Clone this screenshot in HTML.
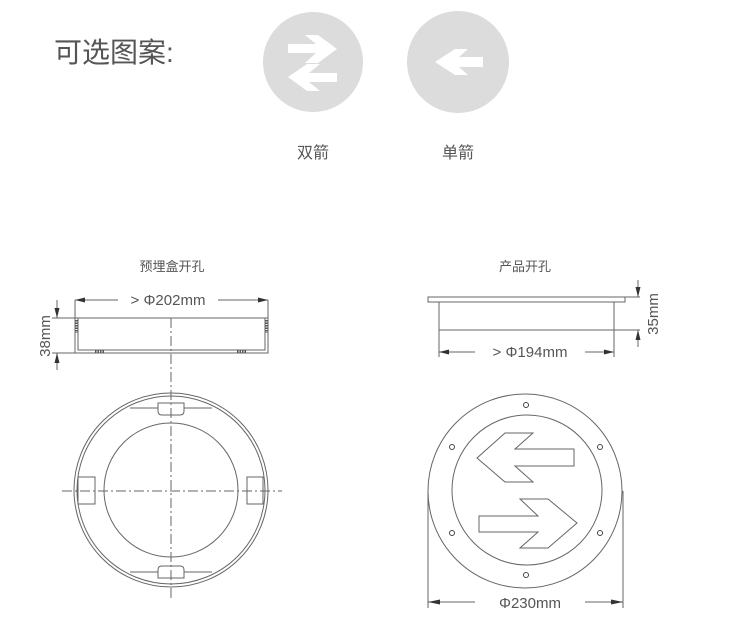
<!DOCTYPE html>
<html><head><meta charset="utf-8"><style>
body{margin:0;background:#fff;width:730px;height:636px;overflow:hidden}
svg{display:block}
text{font-family:"Liberation Sans","Noto Sans CJK SC",sans-serif;fill:#555}
</style></head><body>
<svg width="730" height="636" viewBox="0 0 730 636">
<text x="54" y="62" font-size="28" fill="#666">可选图案:</text>
<circle cx="313" cy="62" r="50" fill="#dcdcdc"/>
<circle cx="458" cy="62" r="51" fill="#dcdcdc"/>
<g fill="#fff">
<polygon points="288,44 316,44 305,35 318,35 337,49 318,63 305,63 316,53 288,53"/>
<polygon points="337,73 309,73 320,64 307,64 288,77 307,91 320,91 309,82 337,82"/>
<polygon points="483,57 459,57 468,49 455,49 435,62 455,75 468,75 459,67 483,67"/>
</g>
<text x="313" y="158" font-size="16" text-anchor="middle">双箭</text>
<text x="458" y="158" font-size="16" text-anchor="middle">单箭</text>
<text x="172" y="271" font-size="13" text-anchor="middle">预埋盒开孔</text>
<text x="525" y="271" font-size="13" text-anchor="middle">产品开孔</text>

<g stroke="#666" fill="none" stroke-width="1">
<polyline points="75,318 75,353 268,353 268,318"/>
<polyline points="78,318 78,350 265,350 265,318"/>
<line x1="52" y1="318" x2="268" y2="318"/>
<line x1="52" y1="353" x2="75" y2="353"/>
<line x1="75" y1="300" x2="75" y2="318"/>
<line x1="268" y1="300" x2="268" y2="318"/>
<line x1="75" y1="300" x2="118" y2="300"/>
<line x1="218" y1="300" x2="268" y2="300"/>
<line x1="57" y1="300" x2="57" y2="318"/>
<line x1="57" y1="353" x2="57" y2="370"/>
<line x1="171" y1="318" x2="171" y2="600" stroke-dasharray="10,3,2,3"/>
<line x1="62" y1="491" x2="282" y2="491" stroke-dasharray="10,3,2,3"/>
<circle cx="171" cy="490" r="97"/>
<circle cx="171" cy="490" r="94"/>
<circle cx="171" cy="490" r="67"/>
<path d="M158,403 h26 v8 q0,4 -4,4 h-18 q-4,0 -4,-4 z"/>
<path d="M158,578 h26 v-8 q0,-4 -4,-4 h-18 q-4,0 -4,4 z"/>
<line x1="130" y1="408" x2="158" y2="408"/><line x1="184" y1="408" x2="212" y2="408"/>
<line x1="130" y1="572" x2="158" y2="572"/><line x1="184" y1="572" x2="212" y2="572"/>
<rect x="78" y="477" width="17" height="27"/>
<rect x="247" y="477" width="16" height="27"/>
<rect x="428" y="297" width="197" height="5"/>
<rect x="439" y="302" width="175" height="28"/>
<line x1="439" y1="330" x2="439" y2="357"/>
<line x1="614" y1="330" x2="614" y2="357"/>
<line x1="614" y1="330" x2="640" y2="330"/>
<line x1="625" y1="297" x2="640" y2="297"/>
<line x1="638" y1="280" x2="638" y2="297"/>
<line x1="638" y1="330" x2="638" y2="347"/>
<line x1="439" y1="352" x2="475" y2="352"/>
<line x1="585" y1="352" x2="614" y2="352"/>
<circle cx="525" cy="491" r="97"/>
<circle cx="527" cy="490" r="75"/>
<polygon points="477,458 505,433 533,433 515,449 574,449 574,466 515,466 533,482 505,482"/>
<polygon points="479,516 538,516 520,499 548,499 577,523 548,548 520,548 538,532 479,532"/>
<line x1="428" y1="491" x2="428" y2="608"/>
<line x1="623" y1="491" x2="623" y2="608"/>
<line x1="428" y1="602" x2="475" y2="602"/>
<line x1="585" y1="602" x2="623" y2="602"/>
</g>
<g fill="#333">
<polygon points="75,300 85,297.5 85,302.5"/>
<polygon points="268,300 258,297.5 258,302.5"/>
<polygon points="57,318 54.5,308 59.5,308"/>
<polygon points="57,353 54.5,363 59.5,363"/>
<polygon points="638,297 635.5,287 640.5,287"/>
<polygon points="638,330 635.5,340 640.5,340"/>
<polygon points="439,352 449,349.5 449,354.5"/>
<polygon points="614,352 604,349.5 604,354.5"/>
<polygon points="428,602 440,599.5 440,604.5"/>
<polygon points="623,602 611,599.5 611,604.5"/>
</g>
<g fill="none" stroke="#444">
<circle cx="526" cy="405" r="2.5"/><circle cx="452" cy="447" r="2.5"/><circle cx="600" cy="447" r="2.5"/>
<circle cx="452" cy="533" r="2.5"/><circle cx="600" cy="533" r="2.5"/><circle cx="526" cy="575" r="2.5"/>
</g>
<g stroke="#555" stroke-width="3" stroke-dasharray="1.5,1">
<line x1="76.5" y1="320" x2="76.5" y2="333"/><line x1="266.5" y1="320" x2="266.5" y2="333"/>
<line x1="95" y1="351.5" x2="104" y2="351.5"/><line x1="237" y1="351.5" x2="247" y2="351.5"/>
</g>
<text x="168" y="305" font-size="15" text-anchor="middle">&gt; Φ202mm</text>
<text x="530" y="357" font-size="15" text-anchor="middle">&gt; Φ194mm</text>
<text x="530" y="608" font-size="15" text-anchor="middle">Φ230mm</text>
<text transform="translate(50,336) rotate(-90)" font-size="15" text-anchor="middle">38mm</text>
<text transform="translate(658,314) rotate(-90)" font-size="15" text-anchor="middle">35mm</text>
</svg>
</body></html>
